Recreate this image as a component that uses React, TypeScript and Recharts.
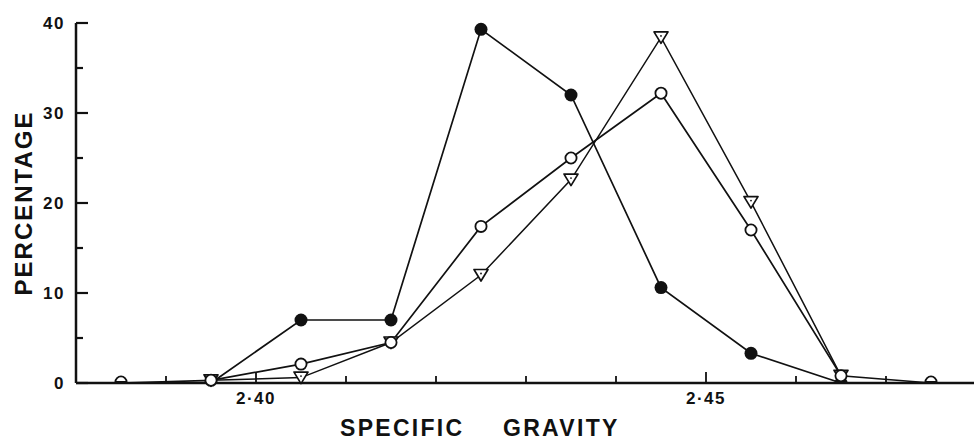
import { LineChart, Line, XAxis, YAxis } from 'recharts'

// specific gravity class mid-points and percentage in each class
const gravity = [2.385, 2.395, 2.405, 2.415, 2.425, 2.435, 2.445, 2.455, 2.465, 2.475]
const filledPct = [null, 0, 7, 7, 39.3, 32, 10.6, 3.3, 0, null]
const trianglePct = [null, 0.3, 0.6, 4.5, 12, 22.6, 38.4, 20.1, 0.8, null]
const openPct = [0, 0.3, 2.1, 4.5, 17.4, 25, 32.2, 17, 0.8, 0]

const xTicks = [2.39, 2.4, 2.41, 2.42, 2.43, 2.44, 2.45, 2.46, 2.47]
const yTicks = [0, 5, 10, 15, 20, 25, 30, 35, 40]

const data = gravity.map((sg, i) => ({
  sg,
  filled: filledPct[i],
  triangle: trianglePct[i],
  open: openPct[i],
}))

const FONT = '"Liberation Sans", Arial, Helvetica, sans-serif'
const INK = '#111'

function YTick({ x, y, payload }: any) {
  const ax = x + 11
  const major = payload.value % 10 === 0
  return (
    <g>
      <line x1={ax} x2={ax + (major ? 12 : 7)} y1={y} y2={y} stroke={INK} strokeWidth={2.2} />
      {major && (
        <text x={ax - 11} y={y + 6} textAnchor="end" fontFamily={FONT} fontWeight={700} fontSize={17} letterSpacing={1.5} fill={INK}>
          {payload.value}
        </text>
      )}
    </g>
  )
}

function XTick({ x, y, payload }: any) {
  const ay = y - 12
  const major = Math.round(payload.value * 100) % 5 === 0
  return (
    <g>
      <line x1={x} x2={x} y1={ay} y2={ay - (major ? 11 : 7)} stroke={INK} strokeWidth={1.8} />
      {major && (
        <text x={x} y={ay + 20.5} textAnchor="middle" fontFamily={FONT} fontWeight={700} fontSize={17} letterSpacing={1.5} fill={INK}>
          {payload.value.toFixed(2).replace('.', '·')}
        </text>
      )}
    </g>
  )
}

function halfCircle(cx: number, cy: number, r: number) {
  return `M${cx - r},${cy} A${r},${r} 0 0 1 ${cx + r},${cy} Z`
}

function FilledDot({ cx, cy, value, index }: any) {
  if (value == null || cx == null) return <g key={index} />
  if (value === 0) return <path key={index} d={halfCircle(cx, cy, 6.5)} fill={INK} />
  return <circle key={index} cx={cx} cy={cy} r={6.5} fill={INK} />
}

function OpenDot({ cx, cy, value, index }: any) {
  if (value == null || cx == null) return <g key={index} />
  if (value === 0) return <path key={index} d={halfCircle(cx, cy - 1, 5.6)} fill="#fff" stroke={INK} strokeWidth={1.8} />
  return <circle key={index} cx={cx} cy={cy} r={5.6} fill="#fff" stroke={INK} strokeWidth={1.8} />
}

function TriangleDot({ cx, cy, value, index }: any) {
  if (value == null || cx == null) return <g key={index} />
  return (
    <g key={index}>
      <path d={`M${cx - 7},${cy - 5.5} L${cx + 7},${cy - 5.5} L${cx},${cy + 6} Z`} fill="#fff" stroke={INK} strokeWidth={1.7} strokeLinejoin="round" />
      <circle cx={cx} cy={cy - 1.5} r={0.9} fill={INK} />
    </g>
  )
}

function YTitle({ viewBox }: any) {
  const cy = viewBox.y + viewBox.height / 2
  return (
    <text transform={`translate(${viewBox.x + 31.5}, ${cy}) rotate(-90)`} textAnchor="middle" fontFamily={FONT} fontWeight={700} fontSize={24} letterSpacing={2} fill={INK}>
      PERCENTAGE
    </text>
  )
}

function XTitle({ viewBox }: any) {
  const base = viewBox.y + 53
  return (
    <g fontFamily={FONT} fontWeight={700} fontSize={23} letterSpacing={2.3} fill={INK}>
      <text x={viewBox.x + 264} y={base}>SPECIFIC</text>
      <text x={viewBox.x + 427} y={base}>GRAVITY</text>
    </g>
  )
}

export default function App() {
  return (
    <div style={{ position: 'absolute', left: 0, top: 0, width: 974, height: 440, overflow: 'hidden', background: '#fff' }}>
      <LineChart width={976} height={440} data={data} margin={{ top: 23, right: 0, bottom: 0, left: 0 }}>
        <XAxis
          dataKey="sg"
          type="number"
          domain={[2.38, 2.48]}
          ticks={xTicks}
          height={57}
          tickSize={0}
          tickMargin={12}
          tickLine={false}
          axisLine={{ stroke: INK, strokeWidth: 2.5 }}
          tick={<XTick />}
          interval={0}
          label={<XTitle />}
        />
        <YAxis
          type="number"
          domain={[0, 40]}
          ticks={yTicks}
          width={76}
          tickSize={0}
          tickMargin={11}
          tickLine={false}
          axisLine={{ stroke: INK, strokeWidth: 2.5 }}
          tick={<YTick />}
          interval={0}
          label={<YTitle />}
        />
        <Line dataKey="filled" stroke={INK} strokeWidth={1.7} dot={<FilledDot />} activeDot={false} isAnimationActive={false} />
        <Line dataKey="triangle" stroke={INK} strokeWidth={1.5} dot={<TriangleDot />} activeDot={false} isAnimationActive={false} />
        <Line dataKey="open" stroke={INK} strokeWidth={1.7} dot={<OpenDot />} activeDot={false} isAnimationActive={false} />
      </LineChart>
    </div>
  )
}
